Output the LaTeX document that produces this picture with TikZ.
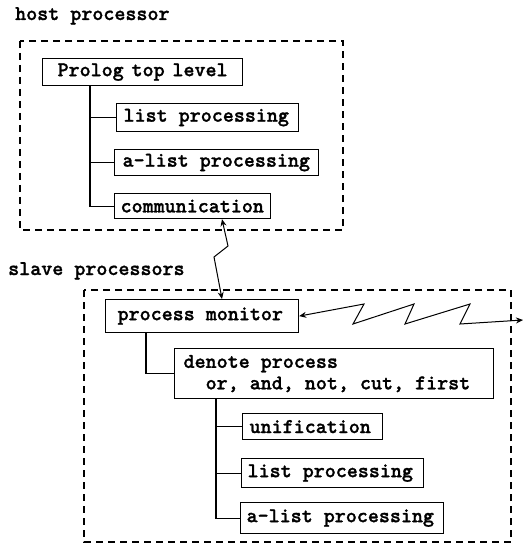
\documentclass[tikz,border=0pt]{standalone}
\usepackage{fontspec}
\newfontfamily\boxfont{lmmonolt10-bold.otf}[RawFeature={embolden=1.2}]
\usetikzlibrary{arrows.meta,calc}

\tikzset{
  mono/.style={font=\boxfont\fontsize{21}{21.5}\selectfont},
  lbl/.style={mono, inner sep=0pt, anchor=base west},
  box/.style={mono, draw, line width=1.2pt, anchor=north west, align=left,
              inner ysep=0pt},
  group/.style={draw, line width=1.3pt, dash pattern=on 7pt off 5pt},
  tree/.style={line width=1.2pt},
  zz/.style={line width=1pt, {Stealth[length=7pt,width=6pt]}-{Stealth[length=7pt,width=6pt]}}
}

% \bx{name}{x1}{y1}{x2}{y2}{left pad}{text}
% (\spaceskip reset keeps the typewriter's own word space)
\newcommand{\bx}[7]{%
  \pgfmathsetmacro{\bw}{#4-#2}\pgfmathsetmacro{\bh}{#5-#3}%
  \pgfmathsetmacro{\tw}{\bw-2*#6}%
  \node[box, inner xsep=#6pt, text width=\tw pt, minimum height=\bh pt]
    (#1) at (#2,#3) {\spaceskip=0pt\xspaceskip=0pt\relax #7};}

\begin{document}
\begin{tikzpicture}[x=1pt,y=-1pt]
\useasboundingbox (0,0) rectangle (523,545);

% group outlines and their titles
\draw[group] (20,41) rectangle (343,230);
\draw[group] (84,290) rectangle (511,542);
\node[lbl] (hostlbl) at (15,20) {host processor};
\node[lbl] (slavelbl) at (8,275) {slave processors};

% host processor modules
\bx{prolog}{42}{58}{242}{85}{15}{Prolog top level}
\bx{lpA}{116}{103}{298}{131}{7}{list processing}
\bx{alpA}{114}{149}{318}{175}{8}{a-list processing}
\bx{comm}{114}{193}{270}{218}{6}{communication}

% slave processor modules
\bx{pm}{105}{299}{298}{332}{12}{process monitor}
\bx{den}{174}{348}{493}{398}{9}{denote process\\\phantom{de}or, and, not, cut, first}
\bx{uni}{242}{413}{382}{439}{7}{unification}
\bx{lpB}{241}{458}{423}{487}{6}{list processing}
\bx{alpB}{240}{502}{443}{533}{6}{a-list processing}

% tree trunks
\coordinate (t1) at (90,0);
\coordinate (t2) at (146,0);
\coordinate (t3) at (216,0);
\draw[tree] (prolog.south -| t1) |- (comm.west);
\draw[tree] (t1 |- lpA.west) -- (lpA.west);
\draw[tree] (t1 |- alpA.west) -- (alpA.west);
\draw[tree] (pm.south -| t2) |- (den.west);
\draw[tree] (den.south -| t3) |- (alpB.west);
\draw[tree] (t3 |- uni.west) -- (uni.west);
\draw[tree] (t3 |- lpB.west) -- (lpB.west);

% host <-> slave link
\coordinate (v0) at (222,0);
\coordinate (v1) at (228,246);
\coordinate (v2) at (214,257);
\draw[zz] (comm.south -| v0) -- (v1) -- (v2) -- (pm.north -| v0);

% link to further slave processors
\coordinate (h1) at (364,304);
\coordinate (h2) at (353,324);
\coordinate (h3) at (414,304);
\coordinate (h4) at (405,324);
\coordinate (h5) at (470,304);
\coordinate (h6) at (460,324);
\coordinate (hend) at (523,320);
\draw[zz] (pm.east) -- (h1) -- (h2) -- (h3) -- (h4) -- (h5) -- (h6) -- (hend);
\end{tikzpicture}
\end{document}
